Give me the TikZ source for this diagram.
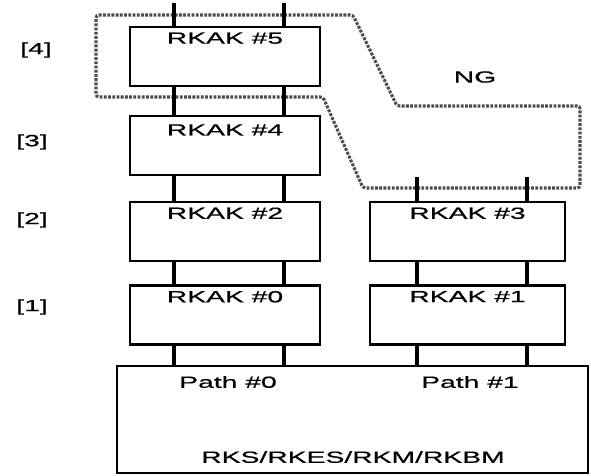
\documentclass[tikz,border=0pt]{standalone}
\usepackage{fontspec}
\usepackage{tikz}
\usetikzlibrary{positioning, calc}
\newfontfamily\widesans[FakeStretch=1.75, FakeBold=0.6]{Liberation Sans}

\begin{document}
\begin{tikzpicture}[
        x=0.025cm, y=-0.025cm,
        font=\widesans\fontsize{11.5}{13}\selectfont,
        kbox/.style={rectangle, draw, line width=1.5pt, minimum width=4.75cm,
            minimum height=1.475cm, fill=white, inner sep=0pt},
        kboxr/.style={kbox, minimum width=4.875cm},
        ktxt/.style={anchor=north, inner sep=4.5pt},
        bus/.style={line width=3.4pt, line cap=butt},
        ngline/.style={line width=2.2pt, black!70, dash pattern=on 2pt off 1pt,
            rounded corners=2pt}
    ]
    \useasboundingbox (0,0) rectangle (591,475);

    % NG region
    \draw[ngline] (96,15) -- (353,15) -- (397,106) -- (580,106) -- (580,188)
        -- (363,188) -- (323,97) -- (96,97) -- cycle;
    \node (ng) at (475,77) {NG};

    \node[kbox]  (k5) at (225,56.5)  {};
    \node[kbox]  (k4) at (225,145.5) {};
    \node[kbox]  (k2) at (225,231.5) {};
    \node[kboxr] (k3) at (467.5,231.5) {};
    \node[kbox]  (k0) at (225,315)   {};
    \node[kboxr] (k1) at (467.5,315) {};
    \node[draw, line width=1.5pt, minimum width=11.775cm, minimum height=2.675cm,
        inner sep=0pt] (rks) at (352.5,419.5) {};

    \node[ktxt] (t5) at (k5.north) {RKAK \#5};
    \node[ktxt, yshift=-2pt] (t4) at (k4.north) {RKAK \#4};
    \node[ktxt] (t2) at (k2.north) {RKAK \#2};
    \node[ktxt] (t3) at (k3.north) {RKAK \#3};
    \node[ktxt] (t0) at (k0.north) {RKAK \#0};
    \node[ktxt] (t1) at (k1.north) {RKAK \#1};
    \node (path0) at (228,382) {Path \#0};
    \node (path1) at (470,382) {Path \#1};
    \node (rkname) at (353,457) {RKS/RKES/RKM/RKBM};

    \node (l4) at (36,50)  {[4]};
    \node (l3) at (32,142) {[3]};
    \node (l2) at (32,220) {[2]};
    \node (l1) at (32,307) {[1]};

    % path lines
    \coordinate (p0a) at (174,3);
    \coordinate (p0b) at (284,3);
    \coordinate (p1a) at (417,177);
    \coordinate (p1b) at (527,177);
    \foreach \p in {p0a, p0b} {
        \draw[bus] (\p) -- (k5.north -| \p);
        \draw[bus] (k5.south -| \p) -- (k4.north -| \p);
        \draw[bus] (k4.south -| \p) -- (k2.north -| \p);
        \draw[bus] (k2.south -| \p) -- (k0.north -| \p);
        \draw[bus] (k0.south -| \p) -- (rks.north -| \p);
    }
    \foreach \p in {p1a, p1b} {
        \draw[bus] (\p) -- (k3.north -| \p);
        \draw[bus] (k3.south -| \p) -- (k1.north -| \p);
        \draw[bus] (k1.south -| \p) -- (rks.north -| \p);
    }
\end{tikzpicture}
\end{document}
